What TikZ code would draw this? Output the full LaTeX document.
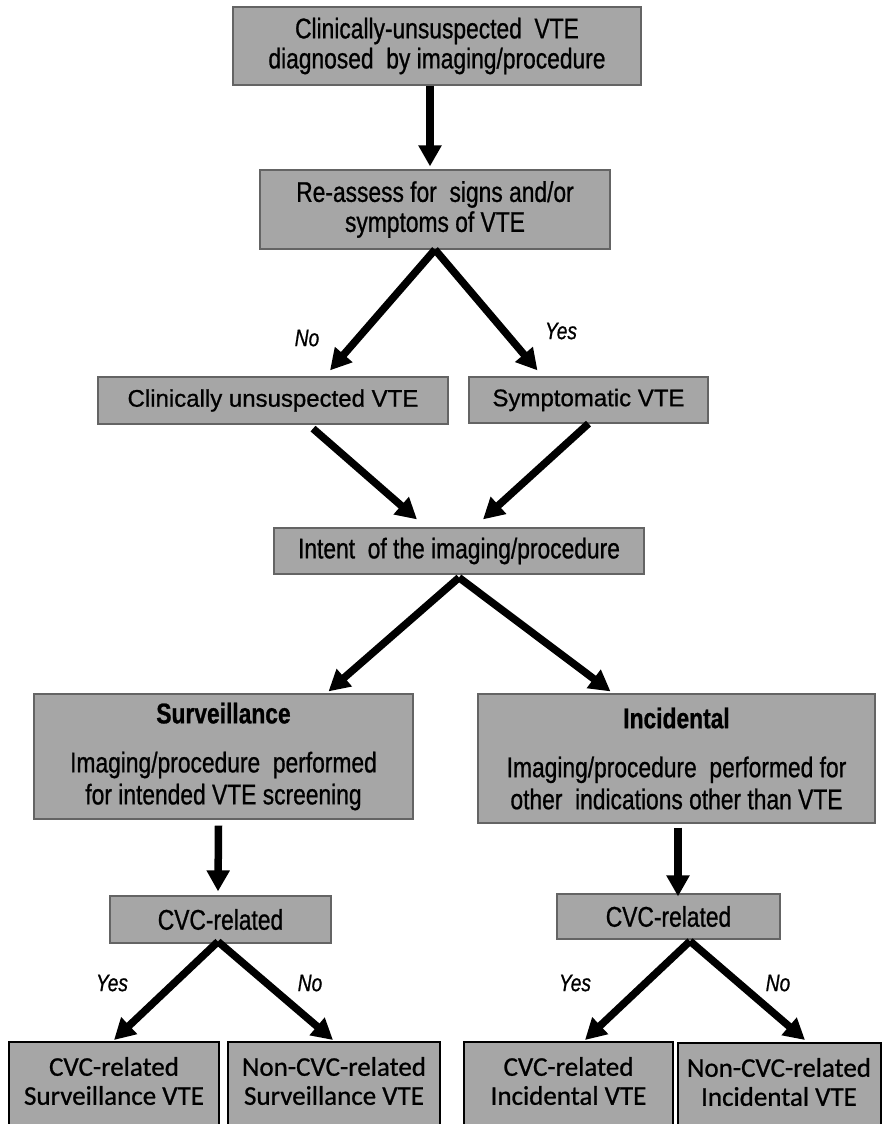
\documentclass[tikz,border=0pt]{standalone}
\usepackage{fontspec}
\setmainfont[FakeBold=0.8]{Liberation Sans}
\newfontfamily\narrowsf[FakeStretch=0.8, FakeBold=0.8]{Liberation Sans}
\newfontfamily\calisf[FakeBold=0.8]{Carlito}
\usetikzlibrary{arrows.meta}
\definecolor{boxgray}{RGB}{166,166,166}
\definecolor{edgegray}{RGB}{100,100,100}

\begin{document}
\begin{tikzpicture}[x=1pt, y=-1pt,
    box/.style={draw=edgegray, line width=1.2pt, fill=boxgray, align=center, inner sep=0pt},
    narrowtext/.style={font=\narrowsf\fontsize{28.5}{30}\selectfont},
    plaintext/.style={font=\fontsize{24}{28}\selectfont},
    headtext/.style={font=\narrowsf\fontsize{28.5}{32}\selectfont},
    endbox/.style={draw=black, line width=2pt, fill=boxgray, align=center, anchor=north,
        inner xsep=0pt, inner ysep=15pt, font=\calisf\fontsize{27}{29}\selectfont,
        execute at end node={\rule[-20pt]{0pt}{20pt}}},
    answer/.style={font=\narrowsf\itshape\fontsize{24}{26}\selectfont},
    flow/.style={line width=7.5pt, -{Triangle[length=21pt,width=22pt]}}]
        \useasboundingbox (0,0) rectangle (882,1124);
        \clip (0,0) rectangle (882,1124);
        % boxes
        \node[box, narrowtext, minimum width=408pt, minimum height=78pt] (detect) at (437,46) {Clinically-unsuspected\ \ VTE\\diagnosed\ \ by imaging/procedure};
        \node[box, narrowtext, minimum width=350pt, minimum height=79pt] (reassess) at (435,209.5) {Re-assess for\ \ signs and/or\\symptoms of VTE};
        \node[box, plaintext, minimum width=350pt, minimum height=47pt] (unsusp) at (273,400.5) {Clinically unsuspected VTE};
        \node[box, plaintext, minimum width=239pt, minimum height=46pt] (sympt) at (588.5,400) {Symptomatic VTE};
        \node[box, narrowtext, minimum width=370pt, minimum height=46pt] (intent) at (459,551) {Intent\ \ of the imaging/procedure};
        \node[box, headtext, minimum width=379pt, minimum height=125pt] (surv) at (223.5,756.5) {\textbf{Surveillance}\\[17pt]Imaging/procedure\ \ performed\\for intended VTE screening};
        \node[box, headtext, minimum width=397pt, minimum height=129pt] (incid) at (676.5,758.5) {\textbf{Incidental}\\[17pt]Imaging/procedure\ \ performed for\\other\ \ indications other than VTE};
        \node[box, narrowtext, minimum width=221pt, minimum height=47pt] (cvcsurv) at (220.5,919.5) {CVC-related};
        \node[box, narrowtext, minimum width=223pt, minimum height=45pt] (cvcincid) at (668.5,916.5) {CVC-related};
        \node[endbox, minimum width=210pt] (survcvc) at (114,1041) {CVC-related\\Surveillance VTE};
        \node[endbox, minimum width=212pt] (survnon) at (334,1041) {Non-CVC-related\\Surveillance VTE};
        \node[endbox, minimum width=209pt] (incidcvc) at (568.5,1041) {CVC-related\\Incidental VTE};
        \node[endbox, minimum width=203pt] (incidnon) at (779,1042) {Non-CVC-related\\Incidental VTE};
        % answers
        \node[answer] (no1) at (307,338) {No};
        \node[answer] (yes1) at (561,331) {Yes};
        \node[answer] (yes2) at (112,983) {Yes};
        \node[answer] (no2) at (310,983) {No};
        \node[answer] (yes3) at (575,983) {Yes};
        \node[answer] (no3) at (778,983) {No};
        % arrows
        \draw[flow] ([xshift=-7pt]detect.south) -- ([xshift=-5pt, yshift=3pt]reassess.north);
        \draw[flow] (reassess.south) -- ([xshift=57pt, yshift=6pt]unsusp.north);
        \draw[flow] (reassess.south) -- ([xshift=-51pt, yshift=6pt]sympt.north);
        \draw[flow] ([xshift=40pt, yshift=-4pt]unsusp.south) -- ([xshift=-42pt, yshift=8pt]intent.north);
        \draw[flow] (sympt.south) -- ([xshift=24pt, yshift=8pt]intent.north);
        \draw[flow] ([yshift=-3pt]intent.south) -- ([xshift=105pt, yshift=2pt]surv.north);
        \draw[flow] ([yshift=-3pt]intent.south) -- ([xshift=-66pt, yshift=2pt]incid.north);
        \draw[flow] ([xshift=-5pt, yshift=-6pt]surv.south) -- ([xshift=-2.5pt, yshift=4pt]cvcsurv.north);
        \draw[flow] ([xshift=1.5pt, yshift=-4pt]incid.south) -- ([xshift=9.5pt, yshift=-3pt]cvcincid.north);
        \draw[flow] ([xshift=-2.5pt, yshift=2pt]cvcsurv.south) -- ([yshift=1pt]survcvc.north);
        \draw[flow] ([xshift=-2.5pt, yshift=2pt]cvcsurv.south) -- ([xshift=-1pt, yshift=1pt]survnon.north);
        \draw[flow] ([xshift=21.5pt, yshift=-1.5pt]cvcincid.south) -- ([xshift=16.5pt, yshift=1pt]incidcvc.north);
        \draw[flow] ([xshift=21.5pt, yshift=-1.5pt]cvcincid.south) -- ([xshift=26pt, yshift=2pt]incidnon.north);
\end{tikzpicture}
\end{document}
